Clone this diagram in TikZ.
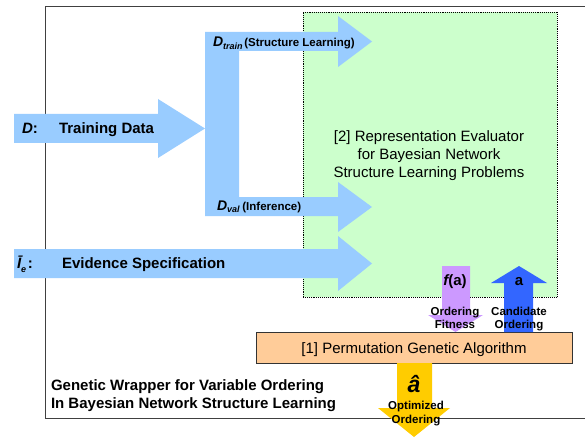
\documentclass[tikz,border=0pt]{standalone}
\usepackage{fontspec}
\setmainfont{Liberation Sans}
\definecolor{lblue}{HTML}{99CCFF}
\definecolor{lgreen}{HTML}{CCFFCC}
\definecolor{lorange}{HTML}{FFCC99}
\definecolor{lpurple}{HTML}{CC99FF}
\definecolor{dblue}{HTML}{3366FF}
\definecolor{gold}{HTML}{FFCC00}
\newcommand{\fsz}[1]{\fontsize{#1}{#1}\selectfont}
\begin{document}
\begin{tikzpicture}[x=1pt,y=-1pt,
  lab/.style={inner sep=0pt, outer sep=0pt},
  bigb/.style={lab, font=\fsz{15}\bfseries},
  bigr/.style={lab, font=\fsz{15}},
  smallb/.style={lab, font=\fsz{11.5}\bfseries},
  blockarrow/.style={draw=none},
]
\clip (0,0) rectangle (585,438);
\fill[white] (0,0) rectangle (585,438);
% outer frame
\draw[black!75, line width=1pt] (45,7) rectangle (600,418);
% green evaluator box
\node[lab, draw=black, densely dotted, line width=0.9pt, fill=lgreen,
      minimum width=254pt, minimum height=285pt, anchor=north west] (evalbox) at (303,12) {};
% Training data arrow
\fill[lblue] (14,114) -- (158,114) -- (158,99) -- (205,128.5) -- (158,158) -- (158,143) -- (14,143) -- cycle;
% split arrow
\fill[lblue] (205,32) -- (338,32) -- (338,16) -- (372,41.5) -- (338,67) -- (338,51) -- (239,51)
  -- (239,197) -- (338,197) -- (338,182) -- (372,207) -- (338,232) -- (338,216) -- (205,216) -- cycle;
% Evidence arrow
\fill[lblue] (14,249) -- (338,249) -- (338,236) -- (372,263.5) -- (338,291) -- (338,278) -- (14,278) -- cycle;
% orange GA box
\node[lab, draw=black!80, line width=0.8pt, fill=lorange,
      minimum width=316pt, minimum height=31pt, anchor=north west] (gabox) at (256,332) {};
% purple arrow f(a)
\fill[lpurple] (442,266) -- (470,266) -- (470,315) -- (483,315) -- (455.5,332) -- (428,315) -- (442,315) -- cycle;
% blue arrow a
\fill[dblue] (504,332) -- (533,332) -- (533,283) -- (547,283) -- (519,266) -- (491,283) -- (504,283) -- cycle;
% yellow arrow
\fill[gold] (397,363) -- (432,363) -- (432,408) -- (450,408) -- (414,437) -- (378,408) -- (397,408) -- cycle;

% texts
\node[bigb, anchor=base west] (dlab) at (22,134) {\itshape D\upshape:};
\node[bigb, anchor=base west] (train) at (59,134) {Training Data};
\node[lab, anchor=base west] (dtrain) at (213,47)
  {{\fsz{14}\bfseries\itshape D\raisebox{-2.5pt}{\fsz{9}train}}\,{\fsz{11.5}\bfseries(Structure Learning)}};
\node[lab, anchor=base west] (dval) at (217,210)
  {{\fsz{14}\bfseries\itshape D\raisebox{-2.5pt}{\fsz{9}val}}\ {\fsz{11.5}\bfseries(Inference)}};
\node[lab, anchor=base west] (ie) at (17,268)
  {{\fsz{15}\bfseries\itshape Ī\raisebox{-4pt}{\fsz{9}e}}\,{\fsz{15}\bfseries :}};
\node[bigb, anchor=base west] (evid) at (62,268.5) {Evidence Specification};

\node[bigr, anchor=base] (ev1) at (429,142) {[2] Representation Evaluator};
\node[bigr, anchor=base] (ev2) at (429,160) {for Bayesian Network};
\node[bigr, anchor=base] (ev3) at (429,177.5) {Structure Learning Problems};

\node[bigr, anchor=base] (ga) at (414,353) {[1] Permutation Genetic Algorithm};

\node[bigb, anchor=base] (fa) at (455,285) {\itshape f\upshape(a)};
\node[bigb, anchor=base] (aa) at (519,285) {a};
\node[smallb, anchor=base] (of1) at (455,315) {Ordering};
\node[smallb, anchor=base] (of2) at (455,328.5) {Fitness};
\node[smallb, anchor=base] (co1) at (519,315) {Candidate};
\node[smallb, anchor=base] (co2) at (519,328.5) {Ordering};

\node[lab, anchor=base, font=\fsz{23}\bfseries\itshape] (ahat) at (414,392) {â};
\node[smallb, anchor=base] (oo1) at (416,409) {Optimized};
\node[smallb, anchor=base] (oo2) at (416,423) {Ordering};

\node[bigb, anchor=base west] (gw1) at (51,390) {Genetic Wrapper for Variable Ordering};
\node[bigb, anchor=base west] (gw2) at (51,408) {In Bayesian Network Structure Learning};
\end{tikzpicture}
\end{document}
